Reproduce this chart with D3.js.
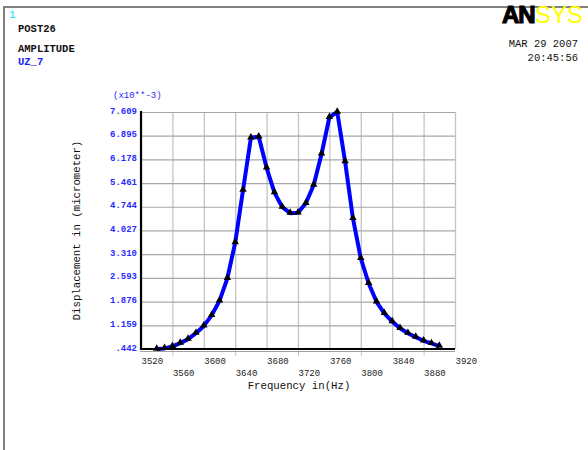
<!DOCTYPE html>
<html>
<head>
<meta charset="utf-8">
<script src="https://cdn.jsdelivr.net/npm/d3@7"></script>
<style>
  html, body { margin: 0; padding: 0; background: #fff; }
  svg { display: block; }
  text { font-family: "Liberation Mono", "DejaVu Sans Mono", monospace; }
</style>
</head>
<body>
<script>
// ---- Data ----
const frequency = [3540, 3550, 3560, 3570, 3580, 3590, 3600, 3610, 3620, 3630,
                   3640, 3650, 3660, 3670, 3680, 3690, 3700, 3710, 3720, 3730,
                   3740, 3750, 3760, 3770, 3780, 3790, 3800, 3810, 3820, 3830,
                   3840, 3850, 3860, 3870, 3880, 3890, 3900];
const displacement = [0.442, 0.46, 0.52, 0.62, 0.74, 0.92, 1.14, 1.46, 1.90, 2.58,
                      3.66, 5.25, 6.83, 6.86, 5.92, 5.17, 4.73, 4.55, 4.56, 4.85,
                      5.40, 6.34, 7.45, 7.609, 6.11, 4.39, 3.18, 2.43, 1.87, 1.52,
                      1.27, 1.07, 0.92, 0.80, 0.69, 0.61, 0.53];
const xTicks = [3520, 3560, 3600, 3640, 3680, 3720, 3760, 3800, 3840, 3880, 3920];
const yTicks = [0.442, 1.159, 1.876, 2.593, 3.310, 4.027, 4.744, 5.461, 6.178, 6.895, 7.609];
const yTickLabels = [".442", "1.159", "1.876", "2.593", "3.310", "4.027", "4.744", "5.461", "6.178", "6.895", "7.609"];

const W = 588, H = 450;
const L = 141, R = 455, T = 112, B = 349;

const svg = d3.select("body").append("svg").attr("width", W).attr("height", H);
svg.append("rect").attr("width", W).attr("height", H).attr("fill", "#fff");

// frame
svg.append("line").attr("x1", 4).attr("x2", W).attr("y1", 7).attr("y2", 7)
  .attr("stroke", "#808080").attr("stroke-width", 2);
svg.append("line").attr("x1", 4).attr("x2", 4).attr("y1", 6).attr("y2", H)
  .attr("stroke", "#808080").attr("stroke-width", 2);

// header texts
svg.append("text").attr("x", 9).attr("y", 18).attr("fill", "#00e0ff")
  .style("font-size", "11px").text("1");
svg.append("text").attr("x", 18).attr("y", 32).attr("fill", "#111")
  .style("font-size", "10.5px").style("font-weight", "bold").text("POST26");
svg.append("text").attr("x", 18).attr("y", 52).attr("fill", "#111")
  .style("font-size", "10.5px").style("font-weight", "bold").text("AMPLITUDE");
svg.append("text").attr("x", 18).attr("y", 65).attr("fill", "#2020ff")
  .style("font-size", "10.5px").style("font-weight", "bold").text("UZ_7");

// logo
const logo = svg.append("text").attr("x", 502).attr("y", 23)
  .style("font-family", "'Liberation Sans', Arial, sans-serif")
  .style("font-size", "24px");
logo.append("tspan").attr("fill", "#000").attr("stroke", "#000").attr("stroke-width", 1.2)
  .style("font-weight", "bold").style("letter-spacing", "-1px").text("AN");
logo.append("tspan").attr("fill", "#ffff00").style("font-weight", "normal").text("SYS");

svg.append("text").attr("x", 578).attr("y", 47).attr("text-anchor", "end").attr("fill", "#111")
  .style("font-size", "10.5px").text("MAR 29 2007");
svg.append("text").attr("x", 578).attr("y", 61).attr("text-anchor", "end").attr("fill", "#111")
  .style("font-size", "10.5px").text("20:45:56");

// scales
const x = d3.scaleLinear().domain([3520, 3920]).range([L, R]);
const y = d3.scaleLinear().domain([0.442, 7.609]).range([B, T]);

// grid - vertical
const gx = svg.append("g").attr("transform", `translate(0,${B})`)
  .call(d3.axisBottom(x).tickValues(xTicks).tickSize(-(B - T)).tickFormat(""));
gx.select(".domain").remove();
gx.selectAll(".tick line").attr("stroke", "#c4c4c4").attr("stroke-width", 1.3);
// small extension ticks below axis for lower-row labels
gx.selectAll(".tick").filter((d, i) => i % 2 === 1).append("line")
  .attr("y1", 0).attr("y2", 7).attr("stroke", "#c8c8c8");

// grid - horizontal
const gy = svg.append("g").attr("transform", `translate(${L},0)`)
  .call(d3.axisLeft(y).tickValues(yTicks).tickSize(-(R - L)).tickFormat(""));
gy.select(".domain").remove();
gy.selectAll(".tick line").attr("stroke", "#a8a8a8").attr("stroke-width", 1.2);

// curve
const line = d3.line().x((d, i) => x(frequency[i])).y(d => y(d));
svg.append("path").datum(displacement).attr("d", line)
  .attr("fill", "none").attr("stroke", "#0000ff").attr("stroke-width", 4)
  .attr("stroke-linejoin", "round");

// markers
svg.append("g").selectAll("path").data(displacement).join("path")
  .attr("transform", (d, i) => `translate(${x(frequency[i])},${y(d) - 0.5})`)
  .attr("d", d3.symbol(d3.symbolTriangle).size(24))
  .attr("fill", "#000");

// axes lines
svg.append("line").attr("x1", L).attr("x2", L).attr("y1", T - 1).attr("y2", B + 1)
  .attr("stroke", "#000").attr("stroke-width", 2.2);
svg.append("line").attr("x1", L - 1).attr("x2", R).attr("y1", B).attr("y2", B)
  .attr("stroke", "#000").attr("stroke-width", 2);
svg.append("line").attr("x1", L - 1).attr("x2", R).attr("y1", B + 2.5).attr("y2", B + 2.5)
  .attr("stroke", "#a0a0a0").attr("stroke-width", 1.2);

// x tick labels
const xa = svg.append("g").attr("transform", `translate(0,${B})`)
  .call(d3.axisBottom(x).tickValues(xTicks).tickSize(0).tickFormat(d3.format("d")));
xa.select(".domain").remove();
xa.selectAll(".tick text")
  .attr("text-anchor", "start").attr("dy", 0)
  .attr("y", (d, i) => i % 2 === 0 ? 15 : 27)
  .attr("fill", "#222").style("font-size", "9px")
  .style("font-family", "'Liberation Mono', monospace");

// y tick labels
const ya = svg.append("g").attr("transform", `translate(${L},0)`)
  .call(d3.axisLeft(y).tickValues(yTicks).tickSize(0).tickFormat((d, i) => yTickLabels[i]));
ya.select(".domain").remove();
ya.selectAll(".tick text")
  .attr("x", -4).attr("dy", 1)
  .attr("fill", "#2a2aff").style("font-size", "9px").style("font-weight", "bold")
  .style("font-family", "'Liberation Mono', monospace");

// multiplier
svg.append("text").attr("x", 113).attr("y", 98).attr("fill", "#2a2aff")
  .style("font-size", "9px").text("(x10**-3)");

// axis titles
svg.append("text").attr("x", (L + R) / 2 + 1).attr("y", 389).attr("text-anchor", "middle")
  .attr("fill", "#111").style("font-size", "10.7px").text("Frequency in(Hz)");
svg.append("text").attr("transform", `translate(80,${(T + B) / 2}) rotate(-90)`)
  .attr("text-anchor", "middle").attr("fill", "#111")
  .style("font-size", "10.7px").text("Displacement in (micrometer)");
</script>
</body>
</html>
